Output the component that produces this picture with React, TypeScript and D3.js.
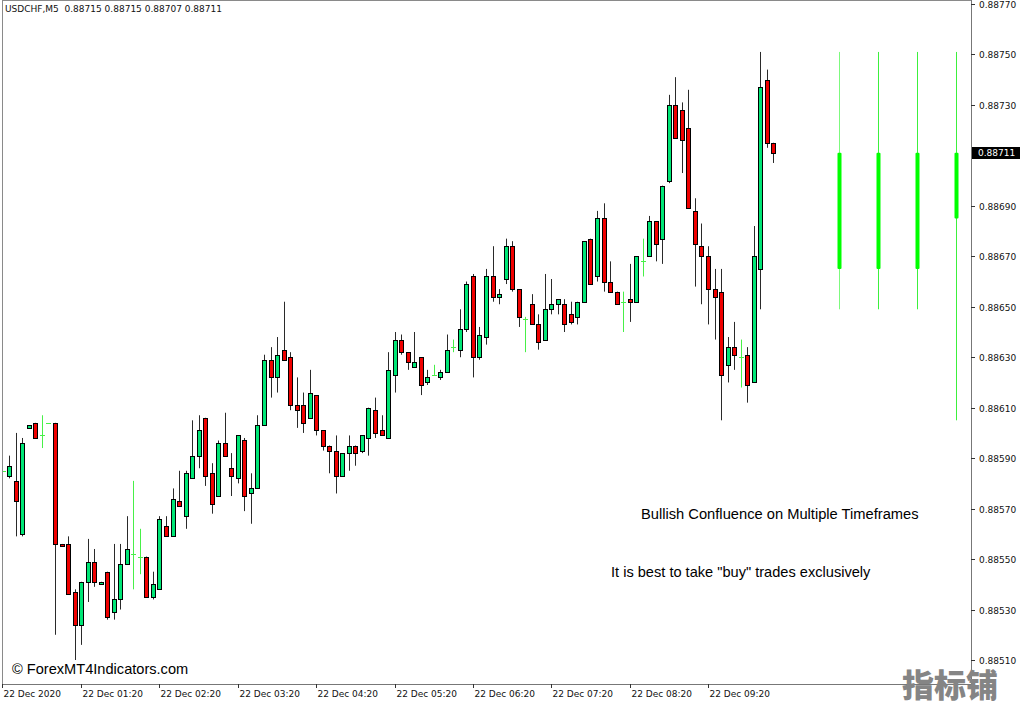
import React from "react";
import * as d3 from "d3";

const W = 1024;
const H = 704;

// USDCHF M5 candles (index 0 = leftmost bar)
const opens = [
  0.88585, 0.88583, 0.88581, 0.8856, 0.88602, 0.88604, 0.88599, 0.88604, 0.88604, 0.88556,
  0.88556, 0.88537, 0.88524, 0.88541, 0.88549, 0.8854, 0.88545, 0.88529, 0.88534, 0.88548,
  0.88552, 0.88551, 0.88551, 0.88535, 0.88538, 0.88563, 0.88559, 0.88573, 0.88567, 0.88582,
  0.88591, 0.88606, 0.88584, 0.88575, 0.88596, 0.88586, 0.88582, 0.88597, 0.88576, 0.88578,
  0.88603, 0.88629, 0.88622, 0.88633, 0.8863, 0.88611, 0.88611, 0.88606, 0.88615, 0.88601,
  0.88595, 0.88593, 0.88583, 0.88592, 0.88595, 0.88593, 0.88598, 0.88609, 0.88601, 0.88598,
  0.88623, 0.88637, 0.88632, 0.88626, 0.8863, 0.8862, 0.88623, 0.88622, 0.88624, 0.88634,
  0.88633, 0.88641, 0.88662, 0.8863, 0.88638, 0.88662, 0.88654, 0.88661, 0.88674, 0.88657,
  0.88645, 0.88651, 0.88643, 0.88637, 0.88649, 0.88651, 0.88651, 0.88647, 0.88646, 0.88652,
  0.88677, 0.88662, 0.88685, 0.8866, 0.88656, 0.88652, 0.88653, 0.88652, 0.88668, 0.8867,
  0.88684, 0.88677, 0.887, 0.8873, 0.88728, 0.88721, 0.88688, 0.88674, 0.8867, 0.88657,
  0.88656, 0.88627, 0.88634, 0.8863, 0.88631, 0.8862, 0.88665, 0.8874, 0.88715,
];
const highs = [
  0.88585, 0.88591, 0.886, 0.88598, 0.88603, 0.88604, 0.88607, 0.88604, 0.88604, 0.88556,
  0.88559, 0.88538, 0.88541, 0.88558, 0.88554, 0.88541, 0.88545, 0.88556, 0.88556, 0.88567,
  0.88581, 0.88562, 0.88551, 0.88545, 0.88567, 0.88567, 0.88578, 0.88585, 0.88585, 0.88605,
  0.88607, 0.88606, 0.88588, 0.88597, 0.88608, 0.88592, 0.88599, 0.88598, 0.88584, 0.88607,
  0.88631, 0.88634, 0.88638, 0.88652, 0.88632, 0.88622, 0.88616, 0.88625, 0.88615, 0.88601,
  0.88595, 0.88599, 0.88592, 0.88599, 0.88595, 0.88599, 0.8861, 0.88614, 0.88607, 0.88632,
  0.8864, 0.88639, 0.88632, 0.8864, 0.8863, 0.88625, 0.88627, 0.88625, 0.88639, 0.88637,
  0.88649, 0.8866, 0.88663, 0.88642, 0.88665, 0.88674, 0.88657, 0.88677, 0.88676, 0.88657,
  0.88646, 0.88655, 0.88647, 0.88663, 0.88661, 0.88653, 0.88653, 0.88652, 0.88652, 0.88676,
  0.88677, 0.88688, 0.88691, 0.88668, 0.88656, 0.88656, 0.88667, 0.8867, 0.88677, 0.88686,
  0.88684, 0.88698, 0.88734, 0.88741, 0.88731, 0.88736, 0.88693, 0.88683, 0.88674, 0.88665,
  0.88665, 0.88638, 0.88644, 0.88637, 0.88634, 0.88682, 0.88751, 0.88744, 0.88715,
];
const lows = [
  0.88585, 0.88582, 0.88559, 0.88559, 0.88602, 0.88598, 0.88594, 0.88604, 0.8852, 0.88555,
  0.88536, 0.8851, 0.88516, 0.88533, 0.88539, 0.8854, 0.88526, 0.88526, 0.8853, 0.88548,
  0.88538, 0.88544, 0.88535, 0.88534, 0.88538, 0.88559, 0.88559, 0.88571, 0.88562, 0.88582,
  0.88586, 0.88579, 0.88568, 0.88575, 0.88591, 0.88575, 0.8858, 0.88569, 0.88564, 0.88578,
  0.88603, 0.88614, 0.88616, 0.88629, 0.88609, 0.88602, 0.886, 0.88606, 0.88599, 0.88593,
  0.88584, 0.88576, 0.88583, 0.88585, 0.88587, 0.88592, 0.88591, 0.88598, 0.88599, 0.88598,
  0.88616, 0.88631, 0.88625, 0.88626, 0.88615, 0.88619, 0.88623, 0.88621, 0.88624, 0.88632,
  0.8863, 0.8864, 0.88622, 0.88629, 0.88635, 0.88652, 0.88651, 0.88659, 0.88656, 0.88642,
  0.88632, 0.88643, 0.88633, 0.88637, 0.88647, 0.88647, 0.8864, 0.88643, 0.88643, 0.88652,
  0.88659, 0.8866, 0.88656, 0.88656, 0.88651, 0.8864, 0.88644, 0.88652, 0.88662, 0.8867,
  0.88668, 0.88667, 0.88699, 0.88717, 0.88703, 0.88689, 0.88658, 0.88651, 0.88643, 0.88637,
  0.88605, 0.8862, 0.88625, 0.88618, 0.88612, 0.8862, 0.88649, 0.88713, 0.88707,
];
const closes = [
  0.88585, 0.88587, 0.88573, 0.88596, 0.88603, 0.88598, 0.88599, 0.88604, 0.88556, 0.88555,
  0.88536, 0.88524, 0.88541, 0.88549, 0.88541, 0.88541, 0.88527, 0.88534, 0.88548, 0.88554,
  0.88552, 0.88551, 0.88535, 0.8854, 0.88566, 0.88559, 0.88574, 0.88571, 0.88584, 0.88591,
  0.88601, 0.88583, 0.88572, 0.88596, 0.88591, 0.88583, 0.88599, 0.88575, 0.88578, 0.88603,
  0.88629, 0.88622, 0.88631, 0.88629, 0.88611, 0.88609, 0.88604, 0.88616, 0.88601, 0.88595,
  0.88593, 0.88583, 0.88592, 0.88595, 0.88592, 0.88599, 0.8861, 0.886, 0.88599, 0.88625,
  0.88637, 0.88632, 0.88628, 0.88628, 0.88619, 0.88622, 0.88623, 0.88624, 0.88633, 0.88634,
  0.88641, 0.88659, 0.8863, 0.88639, 0.88662, 0.88654, 0.88655, 0.88674, 0.88657, 0.88646,
  0.88645, 0.88643, 0.88636, 0.88649, 0.88651, 0.88653, 0.88643, 0.88644, 0.88652, 0.88676,
  0.88659, 0.88685, 0.8866, 0.88656, 0.88651, 0.88652, 0.88652, 0.8867, 0.88668, 0.88684,
  0.88675, 0.88698, 0.8873, 0.88717, 0.88716, 0.88689, 0.88675, 0.8867, 0.88657, 0.88654,
  0.88623, 0.88634, 0.88631, 0.8863, 0.88619, 0.8867, 0.88737, 0.88715, 0.88711,
];

// Multi-timeframe indicator candles (bar slots to the right of the chart)
const tfSlots = [128, 134, 140, 146];
const tfOpen = [0.88665, 0.88665, 0.88665, 0.88685];
const tfHigh = [0.88751, 0.88751, 0.88751, 0.88751];
const tfLow = [0.88649, 0.88649, 0.88649, 0.88605];
const tfClose = [0.88711, 0.88711, 0.88711, 0.88711];
const tfWickColors = ["#7dfa7d", "#3cf03c", "#3cf03c", "#3cf03c"];

const priceTicks = [
  0.8877, 0.8875, 0.8873, 0.8869, 0.8867, 0.8865, 0.8863, 0.8861, 0.8859, 0.8857, 0.8855,
  0.8853, 0.8851,
];
const timeTickIdx = [0, 12, 24, 36, 48, 60, 72, 84, 96, 108];
const timeTickLabels = [
  "22 Dec 2020", "22 Dec 01:20", "22 Dec 02:20", "22 Dec 03:20", "22 Dec 04:20",
  "22 Dec 05:20", "22 Dec 06:20", "22 Dec 07:20", "22 Dec 08:20", "22 Dec 09:20",
];

const headerText = "USDCHF,M5  0.88715 0.88715 0.88707 0.88711";
const lastPrice = 0.88711;

const PLOT_L = 2;
const PLOT_R = 971;
const PLOT_T = 0;
const PLOT_B = 684;

const axisFont = "'DejaVu Sans', Verdana, sans-serif";
const textFont = "'Liberation Sans', Arial, sans-serif";

export default function App() {
  const x = d3.scaleLinear().domain([0, 118]).range([2.77, 2.77 + 6.53 * 118]);
  const y = d3.scaleLinear().domain([0.8851, 0.8877]).range([660, 4]);

  const px = (i: number) => Math.round(x(i));

  const candles = opens.map((o, i) => {
    const h = highs[i];
    const l = lows[i];
    const c = closes[i];
    const cx = px(i);
    const yh = y(h);
    const yl = y(l);
    if (Math.abs(o - c) < 1e-7) {
      const yo = Math.round(y(o)) + 0.5;
      return (
        <g key={i}>
          {yl - yh > 0.5 && (
            <line x1={cx + 0.5} x2={cx + 0.5} y1={yh} y2={yl} stroke="#48f048" strokeWidth={1} />
          )}
          <line x1={cx - 2} x2={cx + 3} y1={yo} y2={yo} stroke="#48f048" strokeWidth={1} />
        </g>
      );
    }
    const up = c > o;
    const top = Math.round(y(Math.max(o, c)));
    const bot = Math.round(y(Math.min(o, c)));
    return (
      <g key={i}>
        <line x1={cx + 0.5} x2={cx + 0.5} y1={yh} y2={yl} stroke="#2a2a2a" strokeWidth={1} />
        <rect
          x={cx - 1.5}
          y={top + 0.5}
          width={4}
          height={Math.max(1, bot - top)}
          fill={up ? "#00e676" : "#f00000"}
          stroke="#000"
          strokeWidth={1}
        />
      </g>
    );
  });

  const tfCandles = tfSlots.map((s, i) => {
    const cx = px(s);
    const yTop = y(Math.max(tfOpen[i], tfClose[i]));
    const yBot = y(Math.min(tfOpen[i], tfClose[i]));
    return (
      <g key={"tf" + i}>
        <line
          x1={cx + 0.5}
          x2={cx + 0.5}
          y1={y(tfHigh[i])}
          y2={y(tfLow[i])}
          stroke={tfWickColors[i]}
          strokeWidth={1}
        />
        <rect x={cx - 1.5} y={yTop} width={4} height={yBot - yTop} fill="#00ff00" rx={1} />
      </g>
    );
  });

  return (
    <svg
      width={W}
      height={H}
      style={{ position: "absolute", left: 0, top: 0, background: "#fff" }}
    >
      <rect x={0} y={0} width={W} height={H} fill="#fff" />
      <defs>
        <clipPath id="plotClip">
          <rect x={PLOT_L + 1} y={PLOT_T + 1} width={PLOT_R - PLOT_L - 1} height={PLOT_B - PLOT_T - 1} />
        </clipPath>
      </defs>

      {/* frame */}
      <line x1={PLOT_L + 0.5} x2={PLOT_L + 0.5} y1={0} y2={PLOT_B} stroke="#8a8a8a" />
      <line x1={PLOT_L} x2={PLOT_R} y1={0.5} y2={0.5} stroke="#8a8a8a" />

      <g clipPath="url(#plotClip)">
        {candles}
        {tfCandles}
      </g>

      {/* right price axis */}
      <line x1={PLOT_R + 0.5} x2={PLOT_R + 0.5} y1={0} y2={PLOT_B + 1} stroke="#777" />
      {priceTicks.map((p) => {
        const yy = Math.round(y(p)) + 0.5;
        return (
          <g key={"pt" + p}>
            <line x1={PLOT_R} x2={PLOT_R + 4} y1={yy} y2={yy} stroke="#333" />
            <text
              x={979}
              y={yy}
              dy="0.35em"
              fontFamily={axisFont}
              fontSize={9}
              fill="#111"
            >
              {p.toFixed(5)}
            </text>
          </g>
        );
      })}
      {/* current price tag */}
      <rect x={972} y={Math.round(y(lastPrice)) - 6} width={48} height={12} fill="#000" />
      <text
        x={978}
        y={Math.round(y(lastPrice))}
        dy="0.35em"
        fontFamily={axisFont}
        fontSize={9}
        fill="#fff"
      >
        {lastPrice.toFixed(5)}
      </text>

      {/* bottom time axis */}
      <line x1={PLOT_L} x2={PLOT_R + 1} y1={PLOT_B + 0.5} y2={PLOT_B + 0.5} stroke="#777" />
      {timeTickIdx.map((ti, k) => {
        const xx = k === 0 ? PLOT_L + 0.5 : px(ti) + 0.5;
        return (
          <g key={"tt" + ti}>
            <line x1={xx} x2={xx} y1={PLOT_B} y2={PLOT_B + 4} stroke="#333" />
            <text
              x={xx + 1}
              y={697}
              fontFamily={axisFont}
              fontSize={9}
              fill="#111"
            >
              {timeTickLabels[k]}
            </text>
          </g>
        );
      })}

      {/* header */}
      <text x={5} y={12} fontFamily={axisFont} fontSize={9} fill="#111" style={{ whiteSpace: "pre" }}>
        {headerText}
      </text>

      {/* annotations */}
      <text x={641} y={519} fontFamily={textFont} fontSize={14.7} fill="#000">
        Bullish Confluence on Multiple Timeframes
      </text>
      <text x={611} y={577} fontFamily={textFont} fontSize={14.6} fill="#000">
        It is best to take "buy" trades exclusively
      </text>
      <text x={12} y={674} fontFamily={textFont} fontSize={14.6} fill="#000">
        © ForexMT4Indicators.com
      </text>

      {/* watermark */}
      <text
        x={902}
        y={697}
        fontFamily="'Noto Sans CJK SC', sans-serif"
        fontWeight={900}
        fontSize={32}
        fill="#858585"
      >
        指标铺
      </text>
    </svg>
  );
}
